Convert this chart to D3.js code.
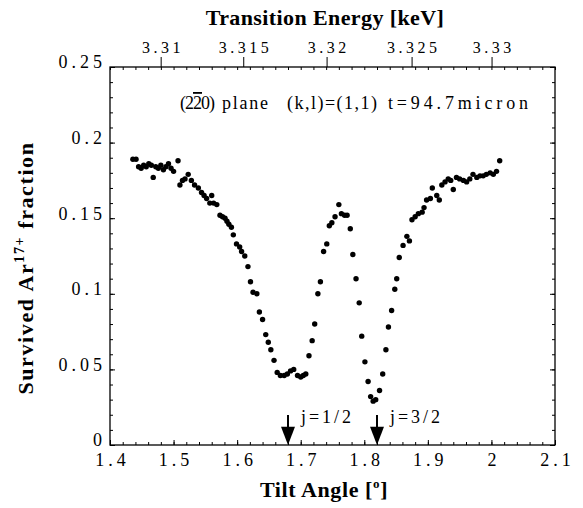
<!DOCTYPE html>
<html>
<head>
<meta charset="utf-8">
<script src="https://cdn.jsdelivr.net/npm/d3@7"></script>
<style>
  html, body { margin: 0; padding: 0; background: #fff; }
  svg { display: block; font-family: "Liberation Serif", "Times New Roman", serif; }
</style>
</head>
<body>
<svg id="chart" width="583" height="508"></svg>
<script>
// ---- data ----
const tiltAngle = [
  1.436,1.441,1.445,1.449,1.453,1.457,1.461,1.465,1.468,1.472,1.476,1.480,1.484,1.488,1.492,1.496,1.500,1.507,
  1.510,1.514,1.518,1.523,1.528,1.533,1.539,1.544,1.548,1.552,1.557,1.560,1.563,1.568,1.573,1.577,1.581,1.584,
  1.587,1.591,1.594,1.599,1.604,1.607,1.612,1.617,1.621,1.625,1.631,1.635,1.640,1.645,1.649,1.653,1.658,1.663,
  1.668,1.674,1.679,1.684,1.689,1.695,1.700,1.704,1.708,1.713,1.718,1.722,1.727,1.731,1.736,1.741,1.745,1.749,
  1.754,1.760,1.764,1.769,1.773,1.778,1.782,1.787,1.792,1.796,1.801,1.806,1.810,1.814,1.818,1.824,1.829,1.834,
  1.838,1.843,1.848,1.851,1.855,1.861,1.867,1.871,1.875,1.880,1.885,1.891,1.894,1.898,1.904,1.907,1.914,1.918,
  1.922,1.927,1.932,1.936,1.940,1.945,1.950,1.956,1.961,1.966,1.971,1.977,1.982,1.987,1.992,1.998,2.003,2.008,2.013
];
const survivedFraction = [
  0.189,0.189,0.184,0.183,0.185,0.184,0.186,0.185,0.177,0.184,0.183,0.185,0.182,0.184,0.186,0.183,0.181,0.188,
  0.172,0.175,0.176,0.179,0.175,0.172,0.170,0.167,0.165,0.163,0.160,0.165,0.160,0.159,0.152,0.151,0.150,0.148,
  0.146,0.144,0.139,0.133,0.131,0.128,0.125,0.118,0.108,0.101,0.100,0.088,0.083,0.073,0.068,0.063,0.056,0.048,
  0.046,0.046,0.047,0.049,0.050,0.046,0.045,0.046,0.047,0.059,0.069,0.080,0.100,0.108,0.128,0.133,0.145,0.147,
  0.151,0.159,0.153,0.152,0.152,0.143,0.126,0.110,0.094,0.072,0.055,0.042,0.032,0.029,0.030,0.036,0.047,0.063,
  0.078,0.089,0.103,0.110,0.124,0.132,0.138,0.135,0.149,0.151,0.153,0.154,0.157,0.162,0.163,0.170,0.165,0.162,
  0.172,0.174,0.176,0.175,0.169,0.177,0.176,0.175,0.174,0.176,0.179,0.177,0.178,0.178,0.179,0.180,0.179,0.181,0.188
];
const xTicks = [1.4,1.5,1.6,1.7,1.8,1.9,2.0,2.1];
const xMinorTicks = d3.range(0,36).map(i => +(1.4 + i*0.02).toFixed(2));
const yTicks = [0,0.05,0.1,0.15,0.2,0.25];
const yMinorTicks = d3.range(0,26).map(i => +(i*0.01).toFixed(2));
const energyTicks = ["3.31","3.315","3.32","3.325","3.33"];
const energyTickAngles = [1.4797,1.6096,1.7407,1.8744,2.0002];
const resonanceAngles = [1.68,1.82];
const resonanceLabels = ["j=1/2","j=3/2"];

// ---- layout ----
const svg = d3.select("#chart");
const x = d3.scaleLinear().domain([1.4,2.1]).range([110,555]);
const y = d3.scaleLinear().domain([0,0.25]).range([445,67]);

const tickFont = g => g.selectAll("text")
  .attr("font-family","Liberation Serif, serif").attr("fill","#000");

function styleAxis(g){
  g.select(".domain").remove();
  g.selectAll("line").attr("stroke","#000").attr("stroke-width",1);
}

// frame
svg.append("rect").attr("x",x(1.4)).attr("y",y(0.25))
  .attr("width",x(2.1)-x(1.4)).attr("height",y(0)-y(0.25))
  .attr("fill","none").attr("stroke","#000").attr("stroke-width",1.3);

// bottom axis
svg.append("g").attr("transform",`translate(0,${y(0)})`)
  .call(d3.axisBottom(x).tickValues(xMinorTicks).tickSize(-3).tickFormat(""))
  .call(styleAxis);
svg.append("g").attr("transform",`translate(0,${y(0)})`)
  .call(d3.axisBottom(x).tickValues(xTicks).tickSize(-5).tickPadding(8).tickFormat(d => String(d)))
  .call(styleAxis).call(tickFont)
  .selectAll("text").attr("font-size",18).attr("letter-spacing","4px").attr("dx","2px");

// top: minor inward ticks (tilt) + energy outward ticks
svg.append("g").attr("transform",`translate(0,${y(0.25)})`)
  .call(d3.axisTop(x).tickValues(xMinorTicks).tickSize(-3).tickFormat(""))
  .call(styleAxis);
svg.append("g").attr("transform",`translate(0,${y(0.25)})`)
  .call(d3.axisTop(x).tickValues(energyTickAngles).tickSize(10).tickPadding(4)
        .tickFormat((d,i) => energyTicks[i]))
  .call(styleAxis).call(tickFont)
  .selectAll("text").attr("font-size",16).attr("letter-spacing","3.5px").attr("dx","1.75px");

// left axis
svg.append("g").attr("transform",`translate(${x(1.4)},0)`)
  .call(d3.axisLeft(y).tickValues(yMinorTicks).tickSize(-3).tickFormat(""))
  .call(styleAxis);
svg.append("g").attr("transform",`translate(${x(1.4)},0)`)
  .call(d3.axisLeft(y).tickValues(yTicks).tickSize(-5).tickPadding(6).tickFormat(d => String(d)))
  .call(styleAxis).call(tickFont)
  .selectAll("text").attr("font-size",18).attr("letter-spacing","4px").attr("dx","2px").attr("dy","0.05em");

// right axis
svg.append("g").attr("transform",`translate(${x(2.1)},0)`)
  .call(d3.axisRight(y).tickValues(yMinorTicks).tickSize(-3).tickFormat(""))
  .call(styleAxis);
svg.append("g").attr("transform",`translate(${x(2.1)},0)`)
  .call(d3.axisRight(y).tickValues(yTicks).tickSize(-5).tickFormat(""))
  .call(styleAxis);

// data points
const pts = tiltAngle.map((a,i) => ({a, v: survivedFraction[i]}));
svg.append("g").selectAll("circle").data(pts).join("circle")
  .attr("cx", d => x(d.a)).attr("cy", d => y(d.v)).attr("r", 2.7).attr("fill","#000");

// resonance arrows
const arrows = svg.append("g");
resonanceAngles.forEach((a,i) => {
  const cx = x(a);
  arrows.append("line").attr("x1",cx).attr("x2",cx).attr("y1",y(0.0198)).attr("y2",y(0.01))
    .attr("stroke","#000").attr("stroke-width",2);
  arrows.append("path")
    .attr("d", `M${cx-7},${y(0.012)} L${cx+7},${y(0.012)} L${cx},${y(0)} Z`).attr("fill","#000");
  arrows.append("text").attr("x", cx + 13).attr("y", y(0.0145))
    .attr("font-size",18).attr("textLength",50).text(resonanceLabels[i]);
});

// annotation
const ann = svg.append("g").attr("font-size",18).attr("fill","#000");
const miller = ann.append("text").attr("x",180).attr("y",109).attr("textLength",35);
miller.append("tspan").text("(2");
miller.append("tspan").style("text-decoration","overline").text("2");
miller.append("tspan").text("0)");
ann.append("text").attr("x",222).attr("y",109).attr("textLength",46).text("plane");
ann.append("text").attr("x",287).attr("y",109).attr("textLength",90).text("(k,l)=(1,1)");
ann.append("text").attr("x",388).attr("y",109).attr("textLength",140).text("t=94.7micron");

// titles
svg.append("text").attr("x",325).attr("y",25).attr("text-anchor","middle")
  .attr("font-size",22).attr("font-weight","bold").attr("letter-spacing","0.4px")
  .text("Transition Energy [keV]");
const xt = svg.append("text").attr("x",324).attr("y",497).attr("text-anchor","middle")
  .attr("font-size",22).attr("font-weight","bold").attr("letter-spacing","0.6px");
xt.append("tspan").text("Tilt Angle [");
xt.append("tspan").attr("font-size",13).attr("dy",-9).text("o");
xt.append("tspan").attr("dy",9).text("]");

const yt = svg.append("text").attr("transform","translate(33,268) rotate(-90)")
  .attr("text-anchor","middle").attr("font-size",22).attr("font-weight","bold").attr("letter-spacing","1.6px");
yt.append("tspan").text("Survived Ar");
yt.append("tspan").attr("font-size",14).attr("dy",-9).text("17+");
yt.append("tspan").attr("dy",9).text(" fraction");
</script>
</body>
</html>
